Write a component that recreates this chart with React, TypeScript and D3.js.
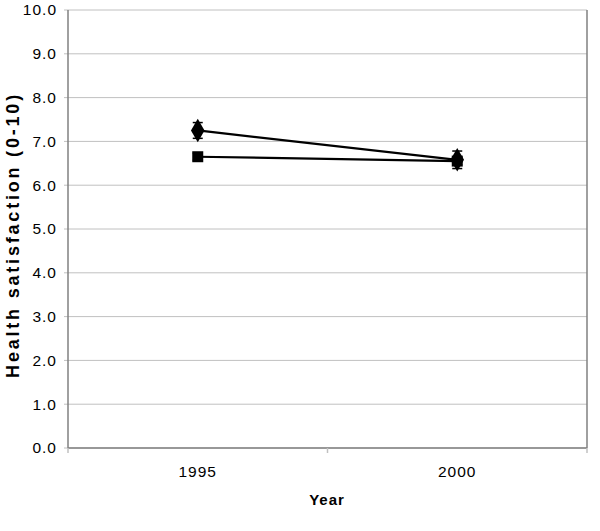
import React from 'react';
import { scaleBand, scaleLinear, line, symbol, symbolDiamond, symbolSquare } from 'd3';

const years = ['1995', '2000'];
const diamondValues = [7.25, 6.58];
const diamondErrors = [0.18, 0.2];
const squareValues = [6.65, 6.55];
const squareErrors = [0.08, 0.08];
const yTicks = [0, 1, 2, 3, 4, 5, 6, 7, 8, 9, 10];

const App = () => {
  const width = 600;
  const height = 531;
  const left = 68;
  const right = 587;
  const top = 10;
  const bottom = 448;
  const font = '"Liberation Sans", Arial, sans-serif';

  const xScale = scaleBand().domain(years).range([left, right]);
  const yScale = scaleLinear().domain([0, 10]).range([bottom, top]);
  const cx = (d: string) => xScale(d)! + xScale.bandwidth() / 2;

  const makeLine = line<number>()
    .x((_, i) => cx(years[i]))
    .y(v => yScale(v));

  const series = [
    { values: diamondValues, errors: diamondErrors, shape: symbol(symbolDiamond, 160)() },
    { values: squareValues, errors: squareErrors, shape: symbol(symbolSquare, 121)() },
  ];

  const bandEdges = [...years.map(y => xScale(y)!), right];

  return (
    <svg width={width} height={height} style={{ position: 'absolute', left: 0, top: 0 }}>
      <rect width={width} height={height} fill="#fff" />
      {yTicks.map(t => (
        <g key={`grid-${t}`}>
          <line x1={left - 4} x2={right} y1={yScale(t)} y2={yScale(t)} stroke="#c0c0c0" strokeWidth={1} />
          <text
            x={57}
            y={yScale(t)}
            dy="0.35em"
            textAnchor="end"
            fontFamily={font}
            fontSize={15.5}
            letterSpacing={1}
            fill="#000"
          >
            {t.toFixed(1)}
          </text>
        </g>
      ))}
      <line x1={left} x2={left} y1={top} y2={bottom} stroke="#808080" strokeWidth={1.5} />
      <line x1={right} x2={right} y1={top} y2={bottom} stroke="#808080" strokeWidth={1.5} />
      <line x1={left} x2={right} y1={bottom} y2={bottom} stroke="#808080" strokeWidth={1.5} />
      {bandEdges.map((x, i) => (
        <line key={`xt-${i}`} x1={x} x2={x} y1={bottom} y2={bottom + 5} stroke="#c0c0c0" strokeWidth={1.5} />
      ))}
      {years.map(y => (
        <text
          key={`xl-${y}`}
          x={cx(y)}
          y={477}
          textAnchor="middle"
          fontFamily={font}
          fontSize={15.5}
          letterSpacing={1}
        >
          {y}
        </text>
      ))}
      <text x={327} y={505} textAnchor="middle" fontFamily={font} fontSize={15} fontWeight="bold" letterSpacing={1}>
        Year
      </text>
      <text
        transform={`translate(19, ${(top + bottom) / 2 + 6}) rotate(-90)`}
        textAnchor="middle"
        fontFamily={font}
        fontSize={18}
        fontWeight="bold"
        letterSpacing={2.8}
      >
        Health satisfaction (0-10)
      </text>

      {series.map((s, si) => (
        <g key={`s-${si}`}>
          <path d={makeLine(s.values)!} fill="none" stroke="#000" strokeWidth={2.2} />
          {s.values.map((v, i) => {
            const x = cx(years[i]);
            const hi = yScale(v + s.errors[i]);
            const lo = yScale(v - s.errors[i]);
            return (
              <g key={`e-${si}-${i}`}>
                <line x1={x} x2={x} y1={hi} y2={lo} stroke="#000" strokeWidth={1.5} />
                <line x1={x - 5} x2={x + 5} y1={hi} y2={hi} stroke="#000" strokeWidth={1.5} />
                <line x1={x - 5} x2={x + 5} y1={lo} y2={lo} stroke="#000" strokeWidth={1.5} />
                <path d={s.shape!} transform={`translate(${x}, ${yScale(v)})`} fill="#000" />
              </g>
            );
          })}
        </g>
      ))}
    </svg>
  );
};

export default App;
